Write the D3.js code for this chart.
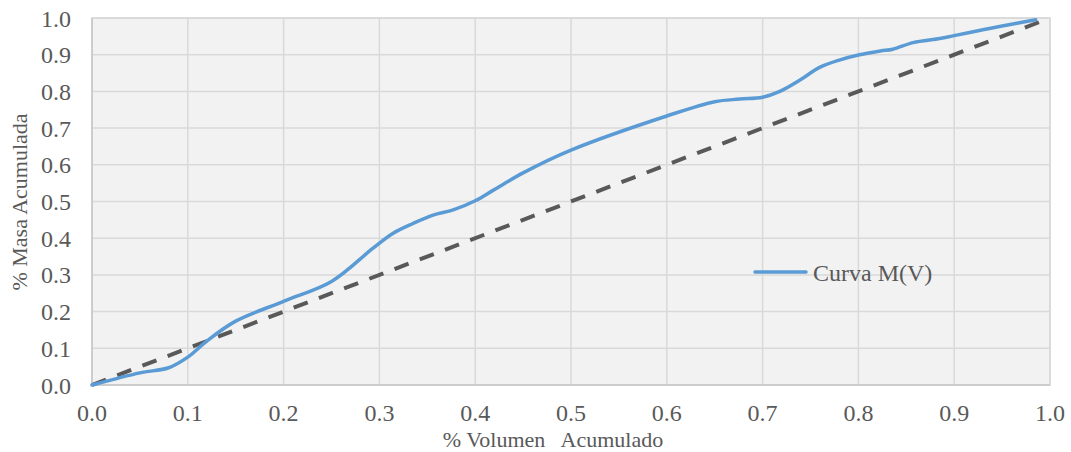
<!DOCTYPE html>
<html>
<head>
<meta charset="utf-8">
<script src="https://cdn.jsdelivr.net/npm/d3@7"></script>
<style>
  html, body { margin: 0; padding: 0; background: #ffffff; }
  svg { display: block; }
</style>
</head>
<body>
<svg id="chart" width="1071" height="452"></svg>
<script>
// ---- data ----
const volumen = [0, 0.05, 0.08, 0.1, 0.12, 0.15, 0.2, 0.25, 0.293, 0.314, 0.335, 0.356, 0.377, 0.4, 0.419, 0.45, 0.5, 0.6, 0.65, 0.676, 0.7, 0.718, 0.739, 0.76, 0.781, 0.8, 0.823, 0.836, 0.857, 0.885, 0.9, 0.93, 0.95, 0.985];
const masa    = [0, 0.033, 0.047, 0.076, 0.12, 0.174, 0.228, 0.282, 0.372, 0.413, 0.44, 0.463, 0.477, 0.502, 0.531, 0.578, 0.64, 0.733, 0.772, 0.779, 0.784, 0.8, 0.831, 0.866, 0.886, 0.899, 0.91, 0.915, 0.933, 0.944, 0.952, 0.968, 0.978, 0.995];
const diagX = [0, 1];
const diagY = [0, 1];
const xTicks = [0, 0.1, 0.2, 0.3, 0.4, 0.5, 0.6, 0.7, 0.8, 0.9, 1.0];
const yTicks = [0, 0.1, 0.2, 0.3, 0.4, 0.5, 0.6, 0.7, 0.8, 0.9, 1.0];
const seriesName = "Curva M(V)";
const xTitle = "% Volumen   Acumulado";
const yTitle = "% Masa Acumulada";

(function () {
// ---- layout ----
const svg = d3.select("#chart");
const pLeft = 92, pRight = 1050, pTop = 18, pBottom = 385;
const x = d3.scaleLinear().domain([0, 1]).range([pLeft, pRight]);
const y = d3.scaleLinear().domain([0, 1]).range([pBottom, pTop]);
const textColor = "#595959";
const font = "'Liberation Serif', 'Times New Roman', serif";

// plot background
svg.append("rect")
  .attr("x", pLeft).attr("y", pTop)
  .attr("width", pRight - pLeft).attr("height", pBottom - pTop)
  .attr("fill", "#f2f2f2")
  .attr("stroke", "#d9d9d9").attr("stroke-width", 1.5);

// gridlines
svg.append("g").selectAll("line").data(xTicks.slice(1)).join("line")
  .attr("x1", d => x(d)).attr("x2", d => x(d))
  .attr("y1", pTop).attr("y2", pBottom)
  .attr("stroke", "#d9d9d9").attr("stroke-width", 1.5);
svg.append("g").selectAll("line").data(yTicks.slice(1)).join("line")
  .attr("x1", pLeft).attr("x2", pRight)
  .attr("y1", d => y(d)).attr("y2", d => y(d))
  .attr("stroke", "#d9d9d9").attr("stroke-width", 1.5);

// axes lines
svg.append("line").attr("x1", pLeft).attr("x2", pLeft).attr("y1", pTop).attr("y2", pBottom)
  .attr("stroke", "#c6c6c6").attr("stroke-width", 1.5);
svg.append("line").attr("x1", pLeft).attr("x2", pRight).attr("y1", pBottom).attr("y2", pBottom)
  .attr("stroke", "#c6c6c6").attr("stroke-width", 1.5);

// tick labels
const fmt = d3.format(".1f");
svg.append("g").selectAll("text").data(xTicks).join("text")
  .attr("x", d => x(d)).attr("y", 421)
  .attr("text-anchor", "middle")
  .attr("font-family", font).attr("font-size", 24).attr("fill", textColor)
  .text(d => fmt(d));
svg.append("g").selectAll("text").data(yTicks).join("text")
  .attr("x", 71).attr("y", d => y(d) + 8.5)
  .attr("text-anchor", "end")
  .attr("font-family", font).attr("font-size", 24).attr("fill", textColor)
  .text(d => fmt(d));

// axis titles
svg.append("text")
  .attr("x", 553).attr("y", 447)
  .attr("text-anchor", "middle")
  .attr("font-family", font).attr("font-size", 22).attr("fill", textColor)
  .style("white-space", "pre")
  .text(xTitle);
svg.append("text")
  .attr("transform", "translate(27,202) rotate(-90)")
  .attr("text-anchor", "middle")
  .attr("font-family", font).attr("font-size", 22).attr("fill", textColor)
  .text(yTitle);

// diagonal dashed line
const diag = diagX.map((d, i) => [d, diagY[i]]);
svg.append("path")
  .datum(diag)
  .attr("d", d3.line().x(d => x(d[0])).y(d => y(d[1])))
  .attr("fill", "none")
  .attr("stroke", "#595959").attr("stroke-width", 4)
  .attr("stroke-dasharray", "15,12");

// curve
const pts = volumen.map((d, i) => [d, masa[i]]);
svg.append("path")
  .datum(pts)
  .attr("d", d3.line().x(d => x(d[0])).y(d => y(d[1])).curve(d3.curveCatmullRom.alpha(0.5)))
  .attr("fill", "none")
  .attr("stroke", "#5b9bd5").attr("stroke-width", 3.5)
  .attr("stroke-linecap", "round").attr("stroke-linejoin", "round");

// legend
svg.append("line")
  .attr("x1", 755).attr("x2", 806).attr("y1", 272).attr("y2", 272)
  .attr("stroke", "#5b9bd5").attr("stroke-width", 3.5).attr("stroke-linecap", "round");
svg.append("text")
  .attr("x", 813).attr("y", 281)
  .attr("font-family", font).attr("font-size", 24).attr("fill", textColor)
  .text(seriesName);
})();
</script>
</body>
</html>
